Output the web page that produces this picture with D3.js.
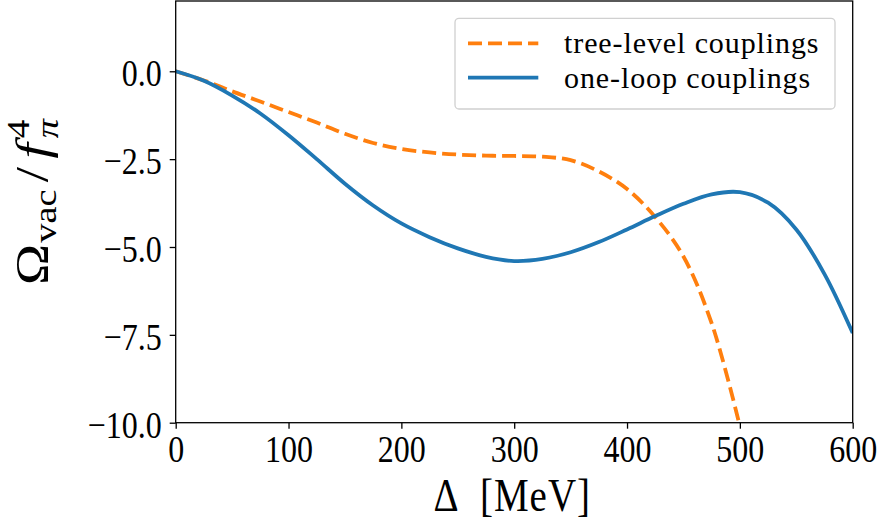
<!DOCTYPE html>
<html>
<head>
<meta charset="utf-8">
<script src="https://cdn.jsdelivr.net/npm/d3@7"></script>
<style>
  html, body { margin: 0; padding: 0; background: #fff; }
  svg { display: block; }
  text { font-family: "Liberation Serif", "DejaVu Serif", serif; fill: #000; }
</style>
</head>
<body>
<svg id="chart" width="882" height="525"></svg>
<script>
// Gap parameter Δ in MeV
const delta = [0, 25, 50, 75, 100, 125, 150, 175, 200, 225, 250, 275, 300,
               325, 350, 375, 400, 425, 450, 475, 500, 525, 550, 575, 600];

// Ω_vac / f_π^4 with one-loop couplings
const oneLoop = [0, -0.27, -0.69, -1.2, -1.82, -2.5, -3.2, -3.82, -4.33, -4.72,
                 -5.04, -5.28, -5.40, -5.34, -5.15, -4.86, -4.5, -4.12, -3.77,
                 -3.5, -3.44, -3.74, -4.5, -5.77, -7.45];

// Ω_vac / f_π^4 with tree-level couplings (Δ = 0 … 500)
const treeLevel = [0, -0.26, -0.57, -0.86, -1.16, -1.46, -1.78, -2.04, -2.21,
                   -2.31, -2.37, -2.40, -2.41, -2.43, -2.53, -2.85, -3.35,
                   -4.15, -5.27, -7.17, -10.1];

const xTicks = [0, 100, 200, 300, 400, 500, 600];
const yTicks = [0, -2.5, -5, -7.5, -10];
const xDomain = [0, 600];
const yDomain = [-10, 2];

const seriesNames = ["tree-level couplings", "one-loop couplings"];
const seriesColors = ["#ff7f0e", "#1f77b4"];

const svg = d3.select("#chart");
const box = { left: 175.7, right: 852.7, top: 1, bottom: 422.7 };
const stretch = 1.2;   // glyphs are drawn slightly taller than wide
const tickFont = 32;

const x = d3.scaleLinear().domain(xDomain).range([box.left, box.right]);
const y = d3.scaleLinear().domain(yDomain).range([box.bottom, box.top]);

svg.append("defs").append("clipPath").attr("id", "plotClip")
  .append("rect")
  .attr("x", box.left).attr("y", box.top)
  .attr("width", box.right - box.left).attr("height", box.bottom - box.top);

// curves
const line = d3.line()
  .x(d => x(d[0]))
  .y(d => y(d[1]))
  .curve(d3.curveCatmullRom.alpha(0.5));

const plot = svg.append("g").attr("clip-path", "url(#plotClip)");

plot.append("path")
  .datum(treeLevel.map((v, i) => [delta[i], v]))
  .attr("d", line)
  .attr("fill", "none")
  .attr("stroke", seriesColors[0])
  .attr("stroke-width", 3.8)
  .attr("stroke-dasharray", "14,6");

plot.append("path")
  .datum(oneLoop.map((v, i) => [delta[i], v]))
  .attr("d", line)
  .attr("fill", "none")
  .attr("stroke", seriesColors[1])
  .attr("stroke-width", 3.8);

// frame
svg.append("rect")
  .attr("x", box.left).attr("y", box.top)
  .attr("width", box.right - box.left).attr("height", box.bottom - box.top)
  .attr("fill", "none").attr("stroke", "#000").attr("stroke-width", 1.3);

// axes
const fmtY = v => (v < 0 ? "\u2212" : "") + Math.abs(v).toFixed(1);

const gx = svg.append("g")
  .attr("transform", `translate(0,${box.bottom})`)
  .call(d3.axisBottom(x).tickValues(xTicks).tickSize(6).tickPadding(8)
        .tickFormat(d3.format("d")));
const gy = svg.append("g")
  .attr("transform", `translate(${box.left},0)`)
  .call(d3.axisLeft(y).tickValues(yTicks).tickSize(6).tickPadding(8)
        .tickFormat(fmtY));

[gx, gy].forEach(g => {
  g.select(".domain").remove();
  g.selectAll(".tick line").attr("stroke", "#000").attr("stroke-width", 1.3);
  g.selectAll(".tick text")
    .attr("font-size", tickFont)
    .attr("font-family", "Liberation Serif, serif")
    .attr("fill", "#000")
    .attr("dy", null);
});
gx.selectAll(".tick text")
  .attr("y", 39 / stretch)
  .attr("transform", `scale(1,${stretch})`);
gy.selectAll(".tick text")
  .attr("x", -14)
  .attr("y", 14.7 / stretch)
  .attr("transform", `scale(1,${stretch})`);

// x axis label
svg.append("text")
  .attr("transform", `translate(${(box.left + box.right) / 2 - 2},511) scale(1,${stretch})`)
  .attr("text-anchor", "middle")
  .attr("font-size", 39)
  .attr("letter-spacing", 1)
  .text("\u0394\u2002[MeV]");

// y axis label: Ω_vac / f_π^4
const ylab = svg.append("text")
  .attr("transform", `translate(48,202) scale(1,${stretch}) rotate(-90)`)
  .attr("text-anchor", "middle")
  .attr("font-size", 46)
  .attr("font-weight", 300);
ylab.append("tspan").text("\u03A9");
ylab.append("tspan").attr("font-size", 32).attr("dy", 8).attr("dx", 1).text("vac");
ylab.append("tspan").attr("dy", -8).attr("dx", 6).text("/");
ylab.append("tspan").attr("font-style", "italic").attr("dx", 7).text("f");
ylab.append("tspan").attr("font-size", 31).attr("dy", -19).attr("dx", 4).text("4");
const fourW = 15.5;
ylab.append("tspan").attr("font-size", 32).attr("font-style", "italic")
  .attr("dx", -fourW).attr("dy", 29).text("\u03C0");

// legend
const lg = svg.append("g");
lg.append("rect")
  .attr("x", 455).attr("y", 18.3)
  .attr("width", 380).attr("height", 90.7)
  .attr("rx", 4).attr("ry", 4)
  .attr("fill", "#fff").attr("fill-opacity", 0.8)
  .attr("stroke", "#d0d0d0").attr("stroke-width", 1.3);

const rows = [
  { name: seriesNames[0], color: seriesColors[0], dash: "14,6", ly: 43.3, ty: 53.3 },
  { name: seriesNames[1], color: seriesColors[1], dash: null, ly: 77.7, ty: 88.3 }
];
rows.forEach(r => {
  lg.append("line")
    .attr("x1", 468).attr("x2", 538.3)
    .attr("y1", r.ly).attr("y2", r.ly)
    .attr("stroke", r.color).attr("stroke-width", 3.8)
    .attr("stroke-dasharray", r.dash);
  lg.append("text")
    .attr("x", 564).attr("y", r.ty)
    .attr("font-size", 30)
    .attr("letter-spacing", 0.9)
    .text(r.name);
});
</script>
</body>
</html>
